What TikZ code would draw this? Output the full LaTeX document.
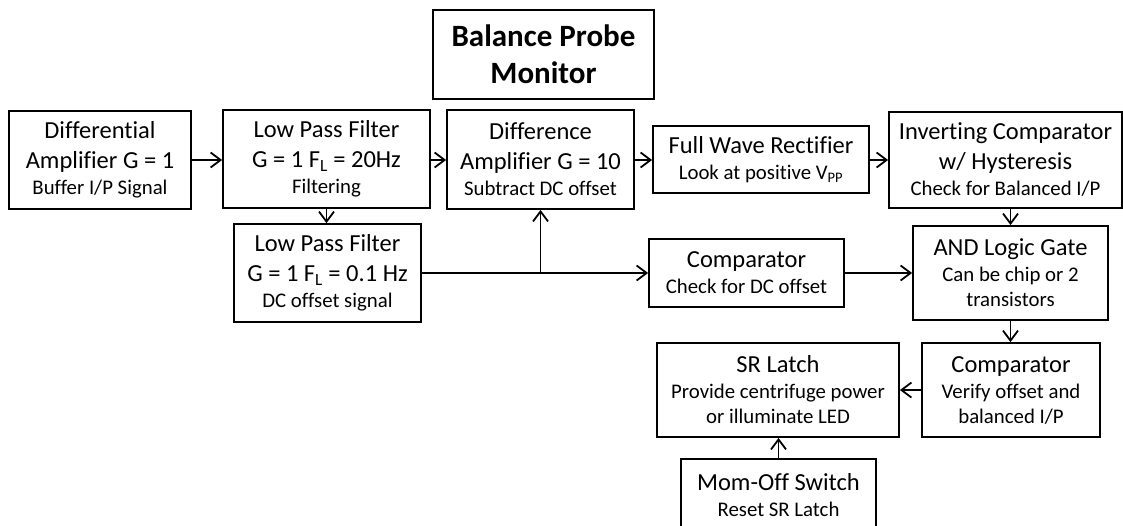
\documentclass[tikz,border=0pt]{standalone}
\usepackage{fontspec}
\setmainfont{Carlito}[Ligatures=NoCommon]
\usetikzlibrary{arrows.meta}

\newcommand{\mainsz}{\fontsize{24.5}{30}\selectfont}
\newcommand{\subsz}{\fontsize{20.8}{25}\selectfont}
\newcommand{\ttlsz}{\fontsize{31}{37}\selectfont}

\begin{document}
\begin{tikzpicture}[x=1pt, y=-1pt,
    blk/.style={draw, line width=1.8pt, align=center, inner sep=0pt, font=\mainsz},
    wire/.style={line width=1.8pt},
    >={Straight Barb[length=10pt, width=15pt]}]
    \useasboundingbox (0,0) rectangle (1123,525);

    % Title
    \node[blk, font=\ttlsz\bfseries, minimum width=221pt, minimum height=89pt] (ttl) at (543.5,54.5) {Balance Probe\\Monitor};

    % Top row
    \node[blk, minimum width=182pt, minimum height=98pt] (dif) at (100,160)
        {Differential\\Amplifier G = 1\\[-4pt]{\subsz Buffer I/P Signal}};
    \node[blk, minimum width=207pt, minimum height=98pt] (lpfa) at (326.5,159)
        {Low Pass Filter\\G = 1 F\textsubscript{L} = 20Hz\\[-4pt]{\subsz Filtering}};
    \node[blk, minimum width=187pt, minimum height=99pt] (dam) at (540.5,159.5)
        {Difference\\Amplifier G = 10\\[-4pt]{\subsz Subtract DC offset}};
    \node[blk, minimum width=216pt, minimum height=67pt] (fwr) at (761,159.5)
        {Full Wave Rectifier\\[-4pt]{\subsz Look at positive V\textsubscript{PP}}};
    \node[blk, minimum width=233pt, minimum height=96pt] (inv) at (1005.5,160)
        {Inverting Comparator\\w/ Hysteresis\\[-4pt]{\subsz Check for Balanced I/P}};

    % Middle row
    \node[blk, minimum width=187pt, minimum height=98pt] (lpfb) at (327.5,273)
        {Low Pass Filter\\G = 1 F\textsubscript{L} = 0.1 Hz\\[-4pt]{\subsz DC offset signal}};
    \node[blk, minimum width=195pt, minimum height=68pt] (cmpa) at (746.5,273)
        {Comparator\\[-4pt]{\subsz Check for DC offset}};
    \node[blk, minimum width=195pt, minimum height=94pt] (andg) at (1010.5,273)
        {AND Logic Gate\\[-4pt]{\subsz Can be chip or 2}\\[-5pt]{\subsz transistors}};

    % Bottom rows
    \node[blk, minimum width=242pt, minimum height=94pt] (sr) at (778,390)
        {SR Latch\\[-4pt]{\subsz Provide centrifuge power}\\[-5pt]{\subsz or illuminate LED}};
    \node[blk, minimum width=178pt, minimum height=94pt] (cmpb) at (1011,390)
        {Comparator\\[-4pt]{\subsz Verify offset and}\\[-5pt]{\subsz balanced I/P}};
    \node[blk, minimum width=195pt, minimum height=72pt] (sw) at (778.5,495)
        {Mom-Off Switch\\[-4pt]{\subsz Reset SR Latch}};

    % Signal path along the top
    \draw[wire, ->] (dif.east |- 0,160) -- (lpfa.west |- 0,160);
    \draw[wire, ->] (lpfa.east |- 0,160) -- (dam.west |- 0,160);
    \draw[wire, ->] (dam.east |- 0,160) -- (fwr.west |- 0,160);
    \draw[wire, ->] (fwr.east |- 0,160) -- (inv.west |- 0,160);

    % DC offset branch
    \draw[wire, ->] (lpfa.south) -- (lpfa.south |- lpfb.north);
    \coordinate (jn) at (dam.south |- lpfb.east);
    \draw[wire, ->] (lpfb.east) -- (jn) -- (cmpa.west);
    \draw[wire, ->] (jn) -- (dam.south);

    % Logic and latch
    \draw[wire, ->] (andg.north |- inv.south) -- (andg.north);
    \draw[wire, ->] (cmpa.east) -- (andg.west |- cmpa.east);
    \draw[wire, ->] (andg.south) -- (andg.south |- cmpb.north);
    \draw[wire, ->] (cmpb.west) -- (cmpb.west -| sr.east);
    \draw[wire, ->] (sw.north) -- (sw.north |- sr.south);
\end{tikzpicture}
\end{document}
